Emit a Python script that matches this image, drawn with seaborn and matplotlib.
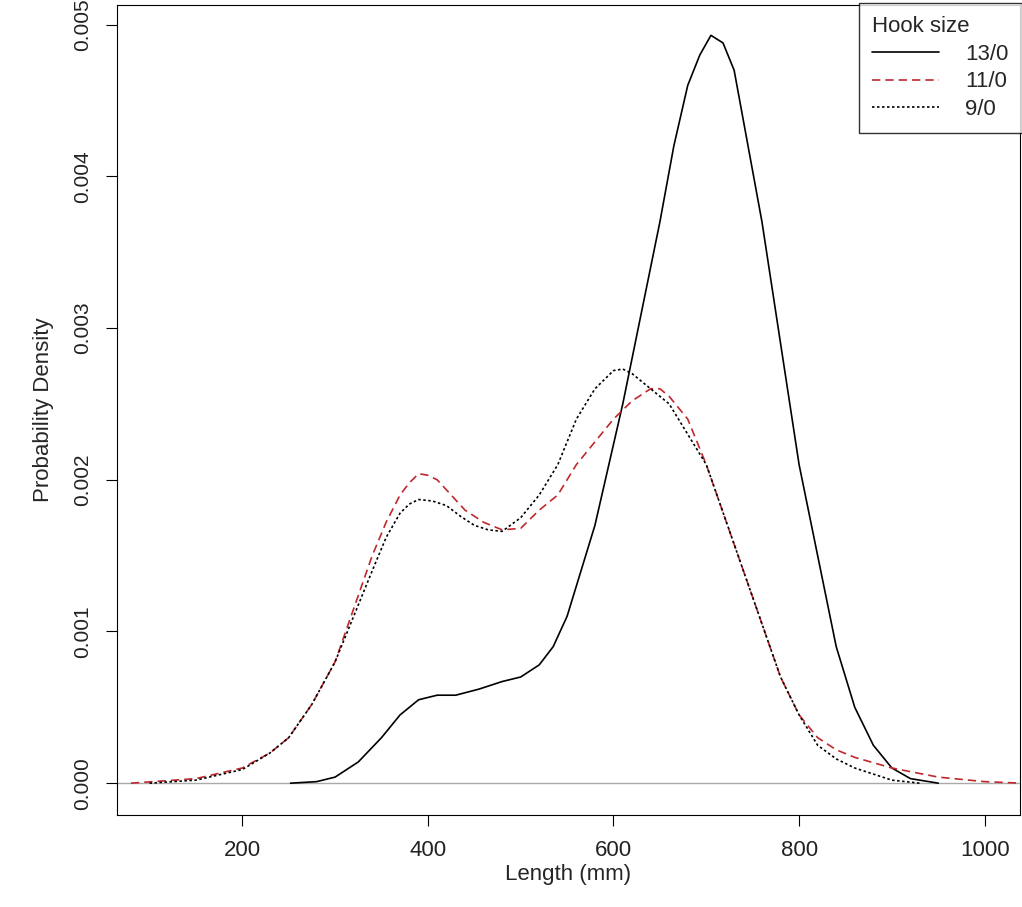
import numpy as np
import pandas as pd
import matplotlib
matplotlib.use("Agg")
import matplotlib.pyplot as plt
import seaborn as sns

sns.set_style("ticks")
plt.rcParams['font.family'] = ['Liberation Sans', 'DejaVu Sans']

# curves (length mm, density)
x_13 = [252, 280, 300, 325, 350, 370, 390, 410, 430, 455, 480, 500, 520, 535, 550, 565, 580, 595, 610,
        630, 650, 665, 680, 693, 705, 718, 730, 745, 760, 780, 800, 820, 840, 860, 880, 900, 920, 950]
y_13 = [0, 0.00001, 0.00004, 0.00014, 0.0003, 0.00045, 0.00055, 0.00058, 0.00058, 0.00062, 0.00067,
        0.0007, 0.00078, 0.0009, 0.0011, 0.0014, 0.0017, 0.0021, 0.0025, 0.0031, 0.0037, 0.0042, 0.0046,
        0.0048, 0.00493, 0.00488, 0.0047, 0.0042, 0.0037, 0.0029, 0.0021, 0.0015, 0.0009, 0.0005,
        0.00025, 0.0001, 0.00003, 0]
x_11 = [80, 150, 200, 230, 250, 275, 300, 320, 340, 355, 370, 380, 390, 400, 410, 425, 440, 460, 480,
        500, 520, 540, 560, 580, 600, 620, 640, 650, 660, 680, 700, 720, 740, 760, 780, 800, 820, 840,
        860, 900, 950, 1000, 1040]
y_11 = [0, 0.00003, 0.0001, 0.0002, 0.0003, 0.00052, 0.0008, 0.00115, 0.0015, 0.00172, 0.0019, 0.00198,
        0.00204, 0.00203, 0.002, 0.0019, 0.0018, 0.00172, 0.00167, 0.00168, 0.0018, 0.0019, 0.0021,
        0.00225, 0.0024, 0.00252, 0.0026, 0.0026, 0.00255, 0.0024, 0.0021, 0.00175, 0.0014, 0.00105,
        0.0007, 0.00045, 0.0003, 0.00022, 0.00017, 0.0001, 0.00004, 0.00001, 0]
x_9 = [100, 150, 200, 230, 250, 275, 300, 320, 340, 355, 370, 380, 390, 405, 420, 435, 450, 465, 480,
       500, 520, 540, 560, 580, 600, 610, 620, 640, 660, 680, 700, 720, 740, 760, 780, 800, 820, 840,
       860, 900, 930]
y_9 = [0, 0.00002, 0.00009, 0.0002, 0.0003, 0.00052, 0.0008, 0.0011, 0.0014, 0.00162, 0.00178, 0.00184,
       0.00187, 0.00186, 0.00183, 0.00176, 0.0017, 0.00167, 0.00166, 0.00175, 0.0019, 0.0021, 0.0024,
       0.0026, 0.00272, 0.00273, 0.0027, 0.0026, 0.0025, 0.0023, 0.0021, 0.00175, 0.0014, 0.00105,
       0.0007, 0.00045, 0.00025, 0.00016, 0.0001, 0.00002, 0]

fig = plt.figure(figsize=(10.22, 9.07), dpi=100)
ax = fig.add_axes([0.1145, 0.1014, 0.8835, 0.8931])

ax.axhline(0, color='#aaaaaa', lw=1)
sns.lineplot(x=x_13, y=y_13, ax=ax, color='black', lw=1.2, label='13/0', sort=False)
sns.lineplot(x=x_11, y=y_11, ax=ax, color='#c0282d', lw=1.2, ls=(0, (5, 3)), label='11/0', sort=False)
sns.lineplot(x=x_9, y=y_9, ax=ax, color='black', lw=1.2, ls=(0, (1.5, 1.5)), label='9/0', sort=False)

ax.set_xlim(65, 1038)
ax.set_ylim(-0.00021, 0.00513)
ax.set_xticks([200, 400, 600, 800, 1000])
ax.set_yticks([0, 0.001, 0.002, 0.003, 0.004, 0.005])
ax.set_yticklabels(['0.000', '0.001', '0.002', '0.003', '0.004', '0.005'], rotation=90, va='center')
ax.tick_params(labelsize=16, length=8, color='black', labelcolor='#222222', pad=10)
ax.tick_params(axis='y', labelsize=15)
ax.set_xlabel('Length (mm)', fontsize=16, labelpad=2)
ax.set_ylabel('Probability Density', fontsize=16, labelpad=14)
for s in ax.spines.values():
    s.set_visible(True)
    s.set_color('black')

leg = ax.legend(title='Hook size', loc='upper right', fontsize=16, title_fontsize=16,
                frameon=True, fancybox=False, edgecolor='black', handlelength=3,
                borderaxespad=-0.1, labelspacing=0.3, borderpad=0.6, handletextpad=1.2)
leg.get_frame().set_linewidth(1)
leg._legend_box.align = 'left'

fig.savefig('out.png', dpi=100)
